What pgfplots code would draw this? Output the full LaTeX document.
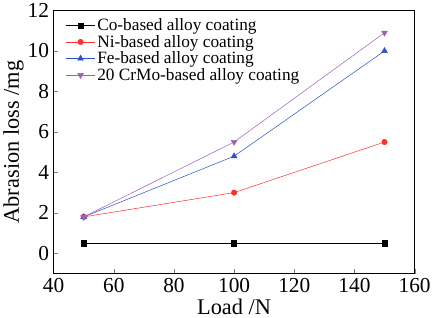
\documentclass[border=0pt]{standalone}
\usepackage{pgfplots}
\pgfplotsset{compat=1.18}
\usepackage{fontspec}
\setmainfont{Liberation Serif}
\definecolor{cored}{HTML}{FF3030}
\definecolor{coblue}{HTML}{3050C8}
\definecolor{copurp}{HTML}{A060B8}
\begin{document}
\begin{tikzpicture}
\begin{axis}[
  scale only axis, width=354bp, height=258bp,
  xmin=40, xmax=160, ymin=-1, ymax=12,
  xtick={40,60,...,160}, ytick={0,2,...,12},
  tick align=inside, xtick pos=bottom, ytick pos=left,
  major tick length=4bp,
  axis line style={line width=1.1pt},
  /pgf/number format/assume math mode=true,
  ticklabel style={font=\fontsize{21}{21}\selectfont},
  xticklabel style={yshift=-1bp},
  yticklabel style={xshift=-1bp},
  xlabel={Load /N}, ylabel={Abrasion loss /mg},
  label style={font=\fontsize{22}{22}\selectfont},
  xlabel style={yshift=1bp}, ylabel style={yshift=-3bp},
  legend style={draw=none, fill=none, at={(0.025,0.985)}, anchor=north west,
    font=\fontsize{17}{17}\selectfont, row sep=-1pt},
  legend cell align=left,
  legend image code/.code={\draw[mark repeat=2,mark phase=2] plot coordinates {(0cm,0cm) (0.5cm,0cm) (1cm,0cm)};},
  every axis plot/.append style={line width=0.5pt},
]
\addplot[black, mark=square*, mark size=2.6pt] coordinates {(50,0.5) (100,0.5) (150,0.5)};
\addlegendentry{Co-based alloy coating}
\addplot[cored, mark=*, mark size=2.7pt] coordinates {(50,1.8) (100,3.0) (150,5.5)};
\addlegendentry{Ni-based alloy coating}
\addplot[coblue, mark=triangle*, mark size=3.3pt] coordinates {(50,1.8) (100,4.8) (150,10.0)};
\addlegendentry{Fe-based alloy coating}
\addplot[copurp, mark=triangle*, mark options={rotate=180}, mark size=3.3pt] coordinates {(50,1.8) (100,5.5) (150,10.9)};
\addlegendentry{20 CrMo-based alloy coating}
\end{axis}
\end{tikzpicture}
\end{document}
